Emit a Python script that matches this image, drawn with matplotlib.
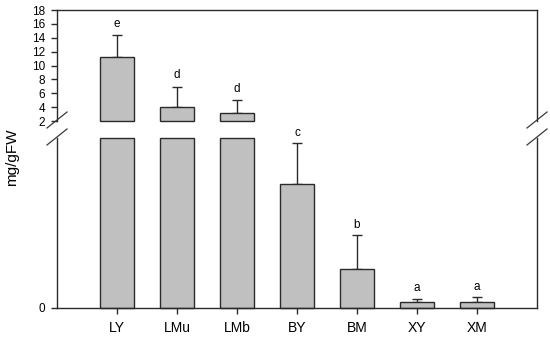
import matplotlib
matplotlib.use("Agg")
import matplotlib.pyplot as plt
from matplotlib.lines import Line2D
import numpy as np

categories = ["LY", "LMu", "LMb", "BY", "BM", "XY", "XM"]
values = [11.2, 3.97, 3.15, 1.46, 0.46, 0.07, 0.07]
errors = [3.16, 2.97, 1.82, 0.48, 0.40, 0.04, 0.06]
letters = ["e", "d", "d", "c", "b", "a", "a"]
top_ticks = [2, 4, 6, 8, 10, 12, 14, 16, 18]
bottom_ticks = [0]
break_low, break_high = 2, 2

plt.rcParams['font.family'] = ['Liberation Sans', 'DejaVu Sans']

fig = plt.figure(figsize=(5.5, 3.37), dpi=100)
W, H = 550, 337
L, R = 57, 537
ax_top = fig.add_axes([L / W, 1 - 121 / H, (R - L) / W, 111 / H])
ax_bot = fig.add_axes([L / W, 1 - 308 / H, (R - L) / W, 170 / H])

x = np.arange(len(categories))
barw = 0.58
face = "#c0c0c0"
edge = "#2b2b2b"
lw = 1.0

# top panel
for xi, v, e, let in zip(x, values, errors, letters):
    if v > break_high:
        ax_top.bar(xi, v - break_high, bottom=break_high, width=barw, color=face,
                   edgecolor=edge, linewidth=lw, clip_on=False, zorder=2)
        ax_top.errorbar(xi, v, yerr=[[0], [e]], fmt="none", ecolor=edge,
                        elinewidth=lw, capsize=3.6, capthick=lw, zorder=1)
        ax_top.annotate(let, (xi, v + e), xytext=(0, 4), textcoords="offset points",
                        ha="center", va="bottom", fontsize=8.5)
ax_top.set_ylim(break_high, 18)
ax_top.set_xlim(-1, 7)
ax_top.set_yticks(top_ticks)
ax_top.set_xticks([])
ax_top.spines["bottom"].set_visible(False)
for s in ["top", "left", "right"]:
    ax_top.spines[s].set_color(edge)
    ax_top.spines[s].set_linewidth(lw)
ax_top.tick_params(axis="y", length=4.5, width=lw, color=edge, labelsize=8.5, pad=4)

# bottom panel
for xi, v, e, let in zip(x, values, errors, letters):
    h = min(v, break_low)
    ax_bot.bar(xi, h, width=barw, color=face, edgecolor=edge, linewidth=lw,
               clip_on=False, zorder=2)
    if v <= break_low:
        ax_bot.errorbar(xi, v, yerr=[[0], [e]], fmt="none", ecolor=edge,
                        elinewidth=lw, capsize=3.6, capthick=lw, zorder=1)
        ax_bot.annotate(let, (xi, v + e), xytext=(0, 3), textcoords="offset points",
                        ha="center", va="bottom", fontsize=8.5)
ax_bot.set_ylim(0, break_low)
ax_bot.set_xlim(-1, 7)
ax_bot.set_yticks(bottom_ticks)
ax_bot.set_xticks(x)
ax_bot.set_xticklabels(categories, fontsize=10)
ax_bot.spines["top"].set_visible(False)
for s in ["bottom", "left", "right"]:
    ax_bot.spines[s].set_color(edge)
    ax_bot.spines[s].set_linewidth(lw)
ax_bot.tick_params(axis="y", length=4.5, width=lw, color=edge, labelsize=8.5, pad=4)
ax_bot.tick_params(axis="x", length=4, width=lw, color=edge, pad=5)

fig.text(12 / W, 1 - 157 / H, "mg/gFW", rotation=90, ha="center", va="center",
         fontsize=11)

# break marks
def mark(xc, yc):
    dx, dy = 10, 8
    fig.add_artist(Line2D([(xc - dx) / W, (xc + dx) / W],
                          [1 - (yc + dy) / H, 1 - (yc - dy) / H],
                          color="#3a3a3a", linewidth=0.9))

for xc in (L, R):
    mark(xc, 120)
    mark(xc, 137)

fig.savefig("out.png", dpi=100)
